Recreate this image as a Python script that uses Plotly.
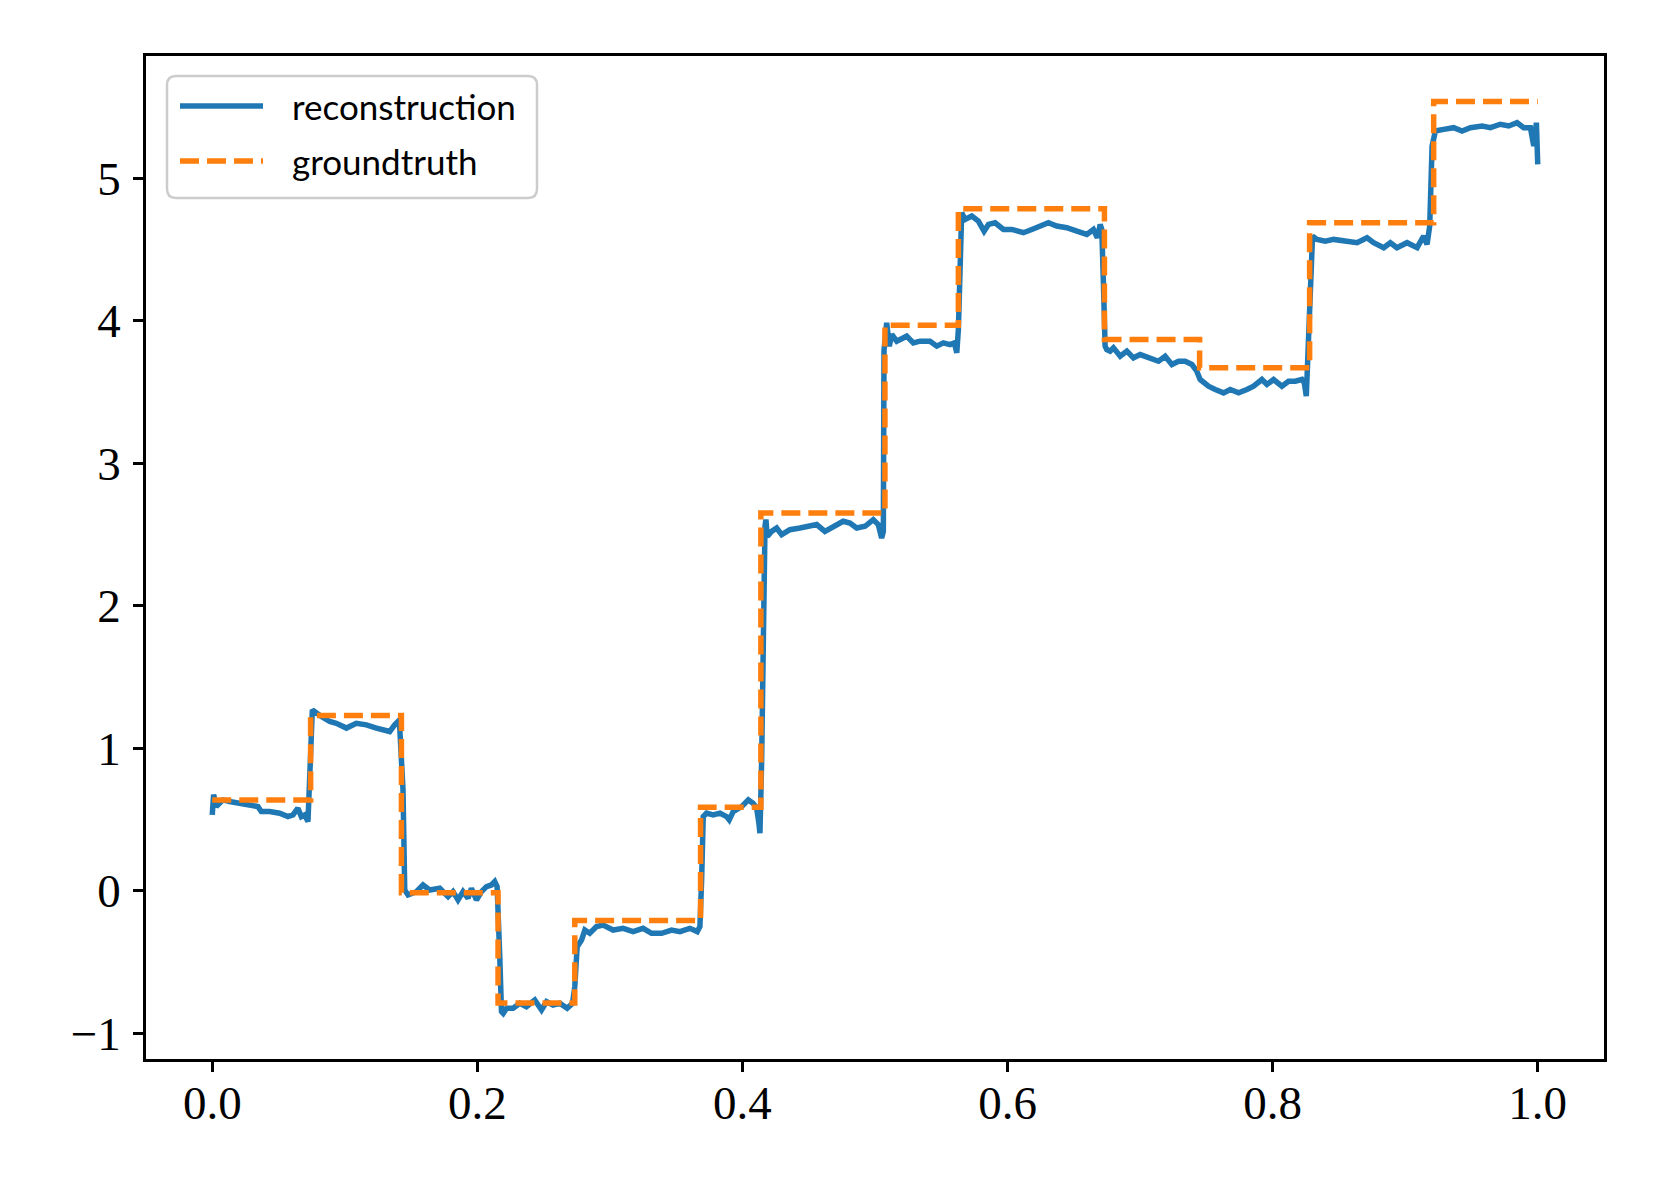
import plotly.graph_objects as go

# ---- groundtruth: piecewise-constant levels between breakpoints ----
gt_breaks = [0.0, 0.0742, 0.1427, 0.2156, 0.2735, 0.3684, 0.4139, 0.5075,
             0.5629, 0.6731, 0.7449, 0.8279, 0.9215, 1.0]
gt_levels = [0.638, 1.230, -0.013, -0.787, -0.209, 0.587, 2.652, 3.969,
             4.786, 3.869, 3.670, 4.688, 5.538]

# ---- reconstruction ----
rec_x = [0.000, 0.001, 0.003, 0.008, 0.013, 0.0206, 0.0282, 0.0344, 0.037, 0.0433,
         0.0508, 0.0571, 0.0609, 0.0646, 0.0672, 0.0697, 0.0722, 0.0745, 0.0755, 0.0823,
         0.0886, 0.0936, 0.1012, 0.1087, 0.1163, 0.1238, 0.1301, 0.1339, 0.1376, 0.1401,
         0.1414, 0.1439, 0.1452, 0.1477, 0.154, 0.159, 0.164, 0.1716, 0.1779, 0.1816,
         0.1854, 0.1892, 0.193, 0.1955, 0.1993, 0.2031, 0.2069, 0.2106, 0.2131, 0.2149,
         0.2169, 0.2182, 0.2195, 0.222, 0.227, 0.232, 0.237, 0.2433, 0.2484, 0.2522,
         0.2571, 0.2622, 0.2677, 0.2718, 0.2735, 0.2753, 0.2786, 0.2811, 0.2848, 0.2899,
         0.2949, 0.3024, 0.31, 0.3175, 0.325, 0.3314, 0.339, 0.3465, 0.3528, 0.3603,
         0.3659, 0.3679, 0.3692, 0.3704, 0.3729, 0.3779, 0.383, 0.388, 0.39, 0.393,
         0.3994, 0.4044, 0.408, 0.4107, 0.4124, 0.4132, 0.4145, 0.4157, 0.417, 0.4177,
         0.4187, 0.422, 0.4258, 0.4296, 0.4358, 0.4434, 0.451, 0.456, 0.4622, 0.4685,
         0.476, 0.4811, 0.4862, 0.4925, 0.4987, 0.5025, 0.505, 0.5063, 0.5068, 0.5088,
         0.5108, 0.5126, 0.5164, 0.5239, 0.5289, 0.534, 0.5415, 0.5466, 0.5516, 0.5566,
         0.5599, 0.5617, 0.5629, 0.5654, 0.5679, 0.573, 0.578, 0.5823, 0.5856, 0.5906,
         0.5969, 0.6032, 0.612, 0.6183, 0.6246, 0.6308, 0.6371, 0.6447, 0.6523, 0.6598,
         0.6648, 0.6678, 0.6699, 0.6711, 0.6724, 0.6736, 0.6749, 0.6774, 0.6799, 0.685,
         0.69, 0.695, 0.7001, 0.7076, 0.7139, 0.7189, 0.724, 0.729, 0.734, 0.7391,
         0.7428, 0.7453, 0.7516, 0.7567, 0.763, 0.768, 0.7743, 0.7806, 0.7856, 0.7919,
         0.7957, 0.8007, 0.807, 0.812, 0.8171, 0.8221, 0.8239, 0.8254, 0.8267, 0.8284,
         0.8301, 0.8335, 0.8397, 0.846, 0.8561, 0.8637, 0.8712, 0.8762, 0.8838, 0.8888,
         0.8938, 0.9014, 0.909, 0.9139, 0.9165, 0.9185, 0.9203, 0.9228, 0.929, 0.9366,
         0.9429, 0.9492, 0.958, 0.9643, 0.9718, 0.9781, 0.9844, 0.9894, 0.9945, 0.997,
         0.999, 1.0]
rec_y = [0.533, 0.675, 0.591, 0.638, 0.627, 0.615, 0.604, 0.591, 0.556, 0.556,
         0.545, 0.521, 0.533, 0.580, 0.521, 0.533, 0.486, 1.270, 1.270, 1.223,
         1.188, 1.176, 1.142, 1.176, 1.165, 1.142, 1.130, 1.118, 1.165, 1.188,
         1.153, 0.709, 0.006, -0.029, -0.006, 0.041, 0.006, 0.018, -0.041, -0.006,
         -0.064, -0.006, -0.052, 0.018, -0.064, -0.006, 0.030, 0.041, 0.065, 0.030,
         -0.462, -0.848, -0.860, -0.824, -0.824, -0.789, -0.813, -0.766, -0.836, -0.778,
         -0.801, -0.789, -0.824, -0.789, -0.673, -0.392, -0.345, -0.275, -0.298, -0.251,
         -0.240, -0.275, -0.263, -0.286, -0.263, -0.298, -0.298, -0.275, -0.286, -0.263,
         -0.286, -0.251, 0.077, 0.521, 0.545, 0.533, 0.545, 0.521, 0.498, 0.556,
         0.591, 0.638, 0.615, 0.580, 0.475, 0.404, 0.919, 1.855, 2.558, 2.605,
         2.487, 2.522, 2.546, 2.499, 2.534, 2.546, 2.558, 2.570, 2.522, 2.558,
         2.593, 2.581, 2.546, 2.558, 2.605, 2.570, 2.476, 2.522, 3.792, 3.986,
         3.822, 3.904, 3.857, 3.892, 3.845, 3.857, 3.857, 3.822, 3.845, 3.833,
         3.845, 3.775, 3.939, 4.758, 4.711, 4.735, 4.700, 4.629, 4.676, 4.688,
         4.641, 4.641, 4.618, 4.641, 4.665, 4.688, 4.665, 4.653, 4.629, 4.606,
         4.641, 4.583, 4.676, 4.641, 4.242, 3.822, 3.798, 3.787, 3.810, 3.751,
         3.787, 3.740, 3.763, 3.740, 3.716, 3.751, 3.693, 3.716, 3.716, 3.693,
         3.646, 3.588, 3.541, 3.518, 3.494, 3.518, 3.494, 3.518, 3.541, 3.588,
         3.553, 3.588, 3.541, 3.576, 3.576, 3.588, 3.565, 3.471, 3.822, 4.407,
         4.594, 4.571, 4.559, 4.571, 4.559, 4.548, 4.583, 4.548, 4.513, 4.548,
         4.513, 4.548, 4.513, 4.594, 4.536, 4.665, 5.226, 5.332, 5.343, 5.355,
         5.332, 5.355, 5.367, 5.355, 5.379, 5.367, 5.390, 5.355, 5.355, 5.226,
         5.390, 5.098]

x_ticks = [0.0, 0.2, 0.4, 0.6, 0.8, 1.0]
x_tick_labels = ["0.0", "0.2", "0.4", "0.6", "0.8", "1.0"]
y_ticks = [-1, 0, 1, 2, 3, 4, 5]
y_tick_labels = ["\u22121", "0", "1", "2", "3", "4", "5"]
series_names = ["reconstruction", "groundtruth"]

BLUE = "#1f77b4"
ORANGE = "#ff7f0e"
DASH = "19px,8px"
LW = 5.5

gt_x = list(gt_breaks)
gt_y = list(gt_levels) + [gt_levels[-1]]

fig = go.Figure()
fig.add_trace(go.Scatter(x=rec_x, y=rec_y, mode="lines", name=series_names[0],
                         line=dict(color=BLUE, width=LW), showlegend=False))
fig.add_trace(go.Scatter(x=gt_x, y=gt_y, mode="lines", name=series_names[1],
                         line=dict(color=ORANGE, width=LW, dash=DASH, shape="hv"),
                         showlegend=False))

# page body has an 8px default margin; compensate
OFF = 8
W, H = 1661 - OFF, 1186 - OFF
L, R, T, B = 146 - OFF, 57, 56 - OFF, 127
PW, PH = W - L - R, H - T - B


def px(xp):
    return (xp - OFF - L) / PW


def py(yp):
    return (H - B - (yp - OFF)) / PH


# manual legend (rounded box, samples, labels) -- positions in page pixels
x0, x1, y0, y1, rad = 167, 537, 76, 198, 9
rx, ry = rad / PW, rad / PH
a, b, c, d = px(x0), px(x1), py(y0), py(y1)
path = (f"M {a+rx},{c} L {b-rx},{c} Q {b},{c} {b},{c-ry} L {b},{d+ry} "
        f"Q {b},{d} {b-rx},{d} L {a+rx},{d} Q {a},{d} {a},{d+ry} "
        f"L {a},{c-ry} Q {a},{c} {a+rx},{c} Z")
fig.add_shape(type="path", path=path, xref="paper", yref="paper",
              line=dict(color="#cccccc", width=2.5),
              fillcolor="rgba(255,255,255,0.8)", layer="above")
fig.add_shape(type="line", xref="paper", yref="paper", x0=px(180), x1=px(263),
              y0=py(106), y1=py(106), line=dict(color=BLUE, width=LW), layer="above")
fig.add_shape(type="line", xref="paper", yref="paper", x0=px(180), x1=px(263),
              y0=py(161), y1=py(161), line=dict(color=ORANGE, width=LW, dash=DASH),
              layer="above")
for name, yc in zip(series_names, [106, 161]):
    fig.add_annotation(x=px(290), y=py(yc), xref="paper", yref="paper",
                       text=name, showarrow=False, xanchor="left", yanchor="middle",
                       font=dict(family="Lato", size=35, color="black"))

axis_common = dict(showline=True, mirror=True, linecolor="black", linewidth=2.5,
                   ticks="outside", ticklen=10, tickwidth=2.5, tickcolor="black",
                   showgrid=False, zeroline=False,
                   tickfont=dict(family="Liberation Serif", size=47, color="black"))

fig.update_xaxes(range=[-0.05, 1.05], tickvals=x_ticks, ticktext=x_tick_labels,
                 ticklabelstandoff=-9, **axis_common)
fig.update_yaxes(range=[-1.18, 5.858], tickvals=y_ticks, ticktext=y_tick_labels,
                 ticklabelstandoff=3, **axis_common)

fig.update_layout(width=W, height=H, margin=dict(l=L, r=R, t=T, b=B, autoexpand=False),
                  plot_bgcolor="white", paper_bgcolor="white", showlegend=False)

fig.write_html("out.html")
